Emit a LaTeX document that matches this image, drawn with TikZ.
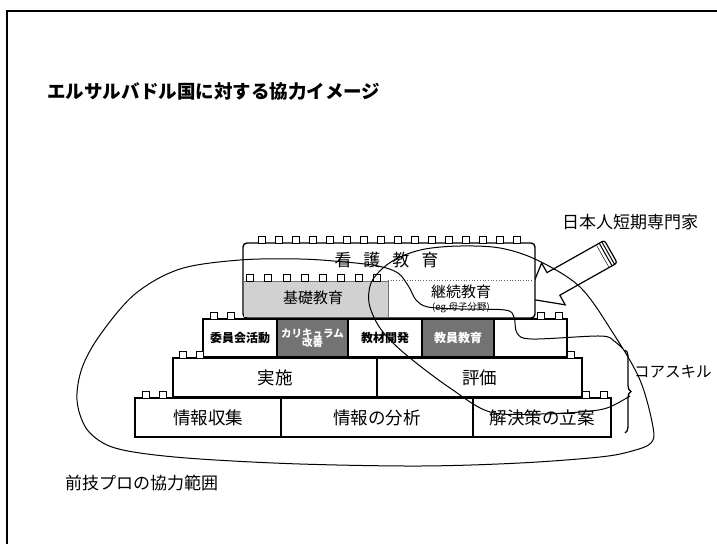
\documentclass[tikz,border=0pt]{standalone}
\usepackage{fontspec}
\setmainfont{Noto Sans CJK JP}
\usetikzlibrary{decorations.pathreplacing}
\begin{document}
\begin{tikzpicture}[x=1pt,y=-1pt,
  frameline/.style={line width=1.3pt},
  layer/.style={draw, line width=1.4pt, fill=white, inner sep=0pt, outer sep=0pt, anchor=center},
  darkcell/.style={layer, fill=black!55, text=white, font=\fontsize{10.5}{11}\selectfont\bfseries, align=center},
  lightcell/.style={layer, font=\fontsize{12}{13}\selectfont\bfseries},
  bigcell/.style={layer, font=\fontsize{17.5}{19}\selectfont},
  bump/.style={draw, line width=0.9pt, fill=white},
  scopeline/.style={line width=1pt},
  lbl/.style={inner sep=0pt, outer sep=0pt}
]
\useasboundingbox (0,0) rectangle (717,544);
% frame
\draw[frameline] (7,544) -- (7,11) -- (717,11);
% title
\node[lbl, anchor=west, font=\fontsize{18.5}{20}\selectfont\bfseries] (title) at (47,92) {エルサルバドル国に対する協力イメージ};
% expert arrow
\draw[line width=1.2pt, fill=white] (596.6,244.7) -- (547,272.6) -- (541.6,263) -- (527.3,298.6) -- (565.2,304.8) -- (559.8,295.2) -- (609.4,267.3) -- cycle;
\draw[line width=1.2pt, fill=white, rounded corners=2.5pt] (596.6,244.7) -- (604.4,240.3) -- (617.2,262.9) -- (609.4,267.3);
\draw[line width=1pt] (599.2,243.2) -- (612,265.8) (601.8,241.8) -- (614.6,264.4);
% top block
\node[layer, rounded corners=4pt, minimum width=292pt, minimum height=75pt] (top) at (389,280.5) {};
\fill[black!18] (243.8,281) rectangle (388,317.3);
\draw[black!55, line width=0.6pt] (243.8,281) -- (388,281) -- (388,317.3);
\draw[black!60, line width=0.7pt, dotted] (388,280) -- (534,280);
\foreach \x in {250,268,287,305,323,341,359,377} \draw[bump] (\x-3.5,274) rectangle (\x+3.5,281);
\foreach \i in {0,...,15} \draw[bump] (262+17*\i-3.5,236) rectangle (262+17*\i+3.5,243);
\node[lbl, font=\fontsize{17}{18}\selectfont] (kango) at (386.5,260) {看\hspace{12pt}護\hspace{12pt}教\hspace{12pt}育};
\node[lbl, font=\fontsize{15}{16}\selectfont] (kiso) at (313,298) {基礎教育};
\node[lbl, font=\fontsize{15}{16}\selectfont] (keizoku) at (461,292) {継続教育};
\node[lbl, font=\fontsize{9.5}{10}\selectfont] (eg) at (461,307.5) {(eg.母子分野)};
% layer 3
\node[lightcell, minimum width=74pt, minimum height=38pt] (iinkai) at (240,338) {委員会活動};
\node[darkcell, minimum width=71pt, minimum height=38pt] (curri) at (312.5,338) {カリキュラム\\[-2pt]改善};
\node[lightcell, minimum width=74pt, minimum height=38pt] (kyozai) at (385,338) {教材開発};
\node[darkcell, minimum width=72pt, minimum height=38pt, font=\fontsize{12}{13}\selectfont\bfseries] (kyoin) at (458,338) {教員教育};
\node[layer, minimum width=73pt, minimum height=38pt] (empty3) at (530.5,338) {};
\foreach \x in {214,231,541,559} \draw[bump] (\x-3.5,312) rectangle (\x+3.5,319);
% layer 2
\node[bigcell, minimum width=204pt, minimum height=39pt] (jisshi) at (275,377.5) {実施};
\node[bigcell, minimum width=205pt, minimum height=39pt] (hyoka) at (479.5,377.5) {評価};
\foreach \x in {183,200,571} \draw[bump] (\x-3.5,351) rectangle (\x+3.5,358);
% layer 1
\node[bigcell, minimum width=146pt, minimum height=39pt] (shushu) at (208,417.5) {情報収集};
\node[bigcell, minimum width=192pt, minimum height=39pt] (bunseki) at (377,417.5) {情報の分析};
\node[bigcell, minimum width=138pt, minimum height=39pt] (ritsuan) at (542,417.5) {解決策の立案};
\foreach \x in {146,163,586,604} \draw[bump] (\x-3.5,391) rectangle (\x+3.5,398);
% scope lines
\draw[scopeline] plot[smooth, tension=0.55] coordinates {
 (630,396) (607,408) (580,412) (540,414) (490,412) (450,388) (415,362) (393,343)
 (378,325) (369,303) (371,283) (383,268) (400,257) (425,249) (460,246) (500,248)
 (537,260) (580,287) (613,333) (640,380) (653,427) (651,443) (632,451) (600,457)
 (520,463) (420,466) (300,464) (200,459) (140,453) (107,445) (86,428) (77,400)
 (82,368) (100,335) (135,294) (180,269) (240,260) (300,259) (345,262) (378,266)
 (398,273) (409,287) (416,300) (428,307) (460,309) (505,310) (514,317) (517,333)
 (532,339) (600,336) (614,341) (624,350)};
\draw[line width=1.3pt, decorate, decoration={brace, amplitude=6pt}] (625,350) -- (625,433);
% labels
\node[lbl, font=\fontsize{17}{18}\selectfont] (expert) at (630,222) {日本人短期専門家};
\node[lbl, anchor=west, font=\fontsize{15.5}{16}\selectfont] (core) at (634,372) {コアスキル};
\node[lbl, anchor=west, font=\fontsize{17}{18}\selectfont] (zengi) at (65,483) {前技プロの協力範囲};
\end{tikzpicture}
\end{document}
